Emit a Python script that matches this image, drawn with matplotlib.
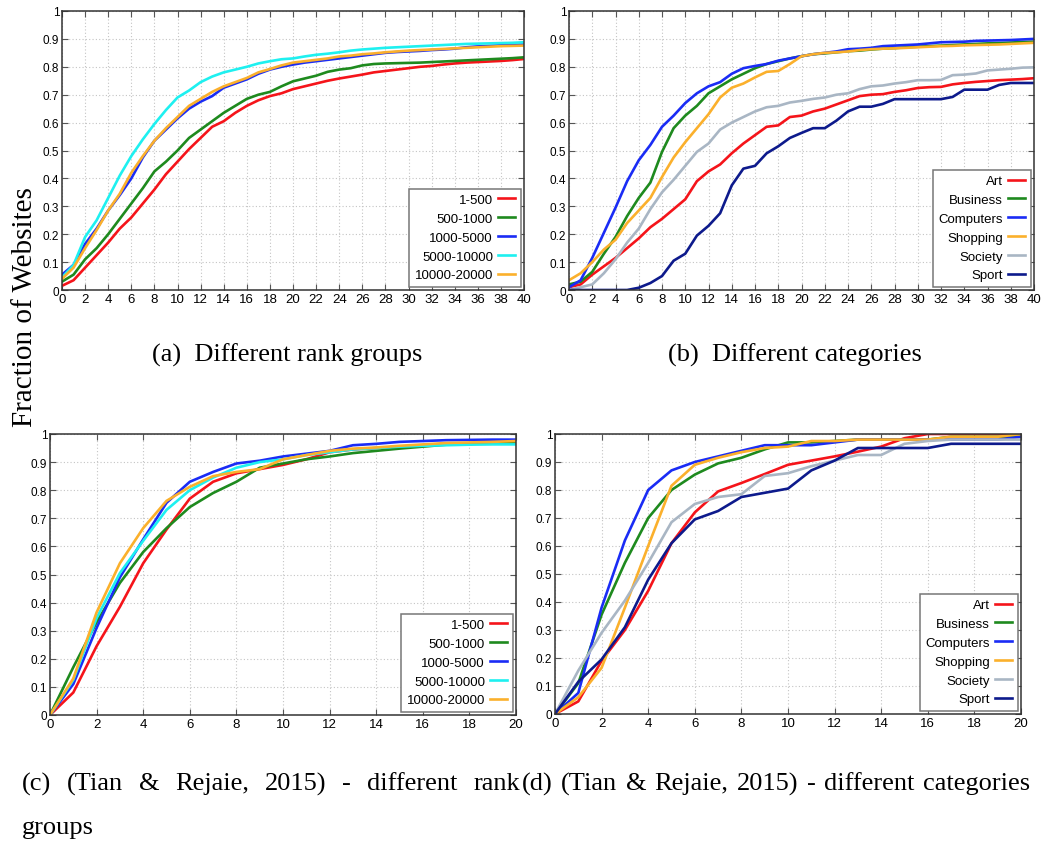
import matplotlib
matplotlib.use('Agg')
import matplotlib.pyplot as plt
import numpy as np

# ---------------------------------------------------------------- data ----
days_40 = list(range(0, 41))
days_20 = list(range(0, 21))

rank_labels = ['1-500', '500-1000', '1000-5000', '5000-10000', '10000-20000']
rank_colors = ['#f5141a', '#1e8a1e', '#1a2cf5', '#1ef0f0', '#fbb02c']

cat_labels = ['Art', 'Business', 'Computers', 'Shopping', 'Society', 'Sport']
cat_colors = ['#f5141a', '#1e8a1e', '#1a2cf5', '#fbb02c', '#a9b6c4', '#0d1a8c']

# (a) different rank groups
rank_a_1_500 = [0.015, 0.035, 0.08, 0.125, 0.17, 0.22, 0.26, 0.31, 0.36, 0.415, 0.46,
                0.505, 0.545, 0.585, 0.605, 0.635, 0.66, 0.68, 0.695, 0.705, 0.72,
                0.73, 0.74, 0.75, 0.758, 0.765, 0.772, 0.78, 0.785, 0.79, 0.795,
                0.80, 0.803, 0.808, 0.812, 0.815, 0.817, 0.819, 0.821, 0.824, 0.828]
rank_a_500_1000 = [0.03, 0.055, 0.11, 0.15, 0.20, 0.255, 0.31, 0.365, 0.425, 0.46, 0.50,
                   0.545, 0.575, 0.605, 0.635, 0.66, 0.685, 0.70, 0.71, 0.73, 0.748,
                   0.758, 0.768, 0.782, 0.79, 0.795, 0.805, 0.81, 0.812, 0.813, 0.814,
                   0.815, 0.817, 0.819, 0.821, 0.823, 0.825, 0.827, 0.829, 0.831, 0.834]
rank_a_1000_5000 = [0.055, 0.09, 0.165, 0.22, 0.285, 0.34, 0.40, 0.475, 0.535, 0.575, 0.615,
                    0.65, 0.675, 0.695, 0.725, 0.74, 0.755, 0.775, 0.79, 0.80, 0.808,
                    0.815, 0.82, 0.825, 0.83, 0.835, 0.84, 0.845, 0.85, 0.853, 0.855,
                    0.857, 0.86, 0.862, 0.865, 0.87, 0.873, 0.875, 0.877, 0.878, 0.88]
rank_a_5000_10000 = [0.045, 0.09, 0.19, 0.25, 0.33, 0.41, 0.48, 0.54, 0.595, 0.645, 0.69,
                     0.715, 0.745, 0.765, 0.78, 0.79, 0.80, 0.812, 0.82, 0.827, 0.83,
                     0.837, 0.843, 0.847, 0.852, 0.858, 0.862, 0.865, 0.868, 0.87, 0.872,
                     0.874, 0.876, 0.878, 0.88, 0.882, 0.883, 0.884, 0.885, 0.886, 0.888]
rank_a_10000_20000 = [0.04, 0.08, 0.15, 0.215, 0.285, 0.345, 0.42, 0.48, 0.535, 0.58, 0.62,
                      0.66, 0.685, 0.71, 0.73, 0.745, 0.76, 0.78, 0.792, 0.805, 0.815,
                      0.82, 0.825, 0.83, 0.837, 0.84, 0.845, 0.848, 0.852, 0.855, 0.858,
                      0.86, 0.862, 0.864, 0.866, 0.868, 0.87, 0.872, 0.874, 0.875, 0.876]

# (b) different categories
cat_b_art = [0.01, 0.02, 0.055, 0.085, 0.115, 0.15, 0.185, 0.225, 0.255, 0.29, 0.325,
             0.39, 0.425, 0.45, 0.49, 0.525, 0.555, 0.585, 0.59, 0.62, 0.625,
             0.64, 0.65, 0.665, 0.68, 0.695, 0.70, 0.702, 0.71, 0.716, 0.724,
             0.727, 0.728, 0.737, 0.742, 0.746, 0.749, 0.752, 0.754, 0.756, 0.759]
cat_b_business = [0.02, 0.03, 0.065, 0.13, 0.19, 0.265, 0.33, 0.385, 0.495, 0.58, 0.625,
                  0.66, 0.705, 0.73, 0.755, 0.775, 0.795, 0.81, 0.82, 0.83, 0.838,
                  0.845, 0.848, 0.852, 0.856, 0.858, 0.862, 0.865, 0.867, 0.87, 0.872,
                  0.874, 0.876, 0.878, 0.88, 0.882, 0.884, 0.885, 0.887, 0.889, 0.89]
cat_b_computers = [0.01, 0.035, 0.115, 0.205, 0.295, 0.39, 0.465, 0.52, 0.585, 0.625, 0.67,
                   0.705, 0.73, 0.745, 0.775, 0.795, 0.803, 0.81, 0.822, 0.83, 0.838,
                   0.845, 0.85, 0.855, 0.863, 0.865, 0.868, 0.874, 0.876, 0.878, 0.88,
                   0.884, 0.888, 0.889, 0.89, 0.893, 0.894, 0.895, 0.896, 0.898, 0.90]
cat_b_shopping = [0.035, 0.06, 0.10, 0.145, 0.18, 0.24, 0.285, 0.33, 0.405, 0.475, 0.53,
                  0.58, 0.63, 0.69, 0.725, 0.74, 0.762, 0.782, 0.785, 0.81, 0.838,
                  0.845, 0.85, 0.852, 0.855, 0.86, 0.863, 0.865, 0.866, 0.868, 0.87,
                  0.872, 0.874, 0.875, 0.877, 0.878, 0.879, 0.88, 0.882, 0.884, 0.886]
cat_b_society = [0.0, 0.01, 0.02, 0.06, 0.11, 0.17, 0.22, 0.29, 0.35, 0.395, 0.445,
                 0.495, 0.525, 0.575, 0.60, 0.62, 0.64, 0.655, 0.66, 0.672, 0.678,
                 0.685, 0.69, 0.70, 0.705, 0.72, 0.73, 0.733, 0.74, 0.745, 0.752,
                 0.752, 0.753, 0.77, 0.772, 0.776, 0.787, 0.79, 0.793, 0.797, 0.798]
cat_b_sport = [0.0, 0.0, 0.0, 0.0, 0.0, 0.0, 0.008, 0.025, 0.05, 0.105, 0.13,
               0.195, 0.23, 0.275, 0.375, 0.435, 0.445, 0.49, 0.515, 0.545, 0.563,
               0.58, 0.58, 0.607, 0.64, 0.657, 0.657, 0.667, 0.684, 0.684, 0.684,
               0.684, 0.684, 0.692, 0.718, 0.718, 0.718, 0.735, 0.742, 0.742, 0.742]

# (c) Tian & Rejaie - rank groups
rank_c_1_500 = [0, 0.08, 0.245, 0.385, 0.54, 0.66, 0.77, 0.83, 0.86, 0.875, 0.89,
                0.91, 0.935, 0.945, 0.95, 0.955, 0.96, 0.963, 0.965, 0.967, 0.97]
rank_c_500_1000 = [0, 0.17, 0.33, 0.47, 0.58, 0.665, 0.74, 0.79, 0.83, 0.88, 0.895,
                   0.91, 0.92, 0.932, 0.94, 0.948, 0.955, 0.962, 0.965, 0.967, 0.968]
rank_c_1000_5000 = [0, 0.11, 0.31, 0.49, 0.625, 0.755, 0.83, 0.865, 0.895, 0.905, 0.92,
                    0.93, 0.94, 0.96, 0.965, 0.972, 0.975, 0.978, 0.979, 0.98, 0.98]
rank_c_5000_10000 = [0, 0.125, 0.345, 0.505, 0.62, 0.73, 0.80, 0.845, 0.88, 0.90, 0.91,
                     0.925, 0.935, 0.945, 0.95, 0.955, 0.958, 0.96, 0.962, 0.963, 0.963]
rank_c_10000_20000 = [0, 0.13, 0.365, 0.54, 0.665, 0.762, 0.812, 0.85, 0.865, 0.875, 0.91,
                      0.925, 0.94, 0.948, 0.952, 0.958, 0.963, 0.968, 0.97, 0.972, 0.975]

# (d) Tian & Rejaie - categories
cat_d_art = [0, 0.045, 0.19, 0.30, 0.44, 0.61, 0.72, 0.795, 0.825, 0.857, 0.89,
             0.905, 0.92, 0.937, 0.955, 0.985, 1.0, 1.0, 1.0, 1.0, 1.0]
cat_d_business = [0, 0.11, 0.355, 0.54, 0.70, 0.80, 0.855, 0.895, 0.915, 0.945, 0.97,
                  0.97, 0.975, 0.98, 0.98, 0.98, 0.98, 0.99, 0.99, 0.99, 0.99]
cat_d_computers = [0, 0.075, 0.38, 0.62, 0.80, 0.87, 0.90, 0.92, 0.94, 0.96, 0.96,
                   0.96, 0.97, 0.98, 0.98, 0.98, 0.98, 0.98, 0.98, 0.98, 0.99]
cat_d_shopping = [0, 0.06, 0.165, 0.38, 0.60, 0.815, 0.89, 0.915, 0.935, 0.95, 0.955,
                  0.975, 0.975, 0.98, 0.98, 0.98, 0.98, 0.99, 0.99, 0.99, 1.0]
cat_d_society = [0, 0.155, 0.29, 0.405, 0.54, 0.685, 0.75, 0.775, 0.785, 0.85, 0.86,
                 0.885, 0.905, 0.925, 0.925, 0.965, 0.975, 0.98, 0.98, 0.98, 0.98]
cat_d_sport = [0, 0.115, 0.195, 0.31, 0.48, 0.61, 0.695, 0.725, 0.775, 0.79, 0.805,
               0.87, 0.905, 0.95, 0.95, 0.95, 0.95, 0.965, 0.965, 0.965, 0.965]

W, H = 1048, 845
SANS = ['Liberation Sans', 'DejaVu Sans']
SERIF = ['Liberation Serif', 'DejaVu Serif']


def px_axes(fig, left, top, right, bottom):
    # axes placed by pixel box of the reference picture
    return fig.add_axes([left / W, (H - bottom) / H, (right - left) / W, (bottom - top) / H])


def style_axes(ax, xmax):
    ax.set_xlim(0, xmax)
    ax.set_ylim(0, 1)
    ax.set_xticks(np.arange(0, xmax + 1, 2))
    ax.set_yticks(np.arange(0, 1.01, 0.1))
    ax.set_yticklabels(['%g' % round(v, 1) for v in np.arange(0, 1.01, 0.1)])
    ax.grid(True, linestyle=(0, (1, 2)), color='#c4c4c4', linewidth=0.8)
    ax.tick_params(direction='in', top=True, right=True, length=4, width=0.8,
                   color='#555555', pad=2)
    ax.tick_params(axis='y', labelsize=8.5)
    ax.tick_params(axis='x', labelsize=9.5)
    for lab in ax.get_xticklabels() + ax.get_yticklabels():
        lab.set_family(SANS)
    for sp in ax.spines.values():
        sp.set_color('#333333')
        sp.set_linewidth(1.1)


def draw_panel(ax, x, series, labels, colors, xmax):
    for ys, lab, col in zip(series, labels, colors):
        ax.plot(x, ys, color=col, linewidth=1.9, label=lab)
    style_axes(ax, xmax)
    leg = ax.legend(loc='lower right', markerfirst=False, fancybox=False,
                    prop={'family': SANS, 'size': 9.5}, handlelength=1.35,
                    handletextpad=0.35, borderaxespad=0.25, labelspacing=0.5,
                    borderpad=0.4, framealpha=1)
    leg.get_frame().set_edgecolor('#777777')
    leg.get_frame().set_linewidth(1.1)


def justify(fig, words, x0, x1, y, size):
    # spread words so the line fills x0..x1 (pixels)
    renderer = fig.canvas.get_renderer()
    texts = [fig.text(0, y / H, w, family=SERIF, fontsize=size, va='center') for w in words]
    widths = [t.get_window_extent(renderer).width for t in texts]
    gap = (x1 - x0 - sum(widths)) / (len(words) - 1)
    pos = x0
    for t, wd in zip(texts, widths):
        t.set_x(pos / W)
        pos += wd + gap


fig = plt.figure(figsize=(W / 100, H / 100), dpi=100)

ax_a = px_axes(fig, 62, 12, 524, 291)
draw_panel(ax_a, days_40, [rank_a_1_500, rank_a_500_1000, rank_a_1000_5000,
                           rank_a_5000_10000, rank_a_10000_20000],
           rank_labels, rank_colors, 40)

ax_b = px_axes(fig, 569, 12, 1034, 291)
draw_panel(ax_b, days_40, [cat_b_art, cat_b_business, cat_b_computers,
                           cat_b_shopping, cat_b_society, cat_b_sport],
           cat_labels, cat_colors, 40)

ax_c = px_axes(fig, 50, 435, 516, 716)
draw_panel(ax_c, days_20, [rank_c_1_500, rank_c_500_1000, rank_c_1000_5000,
                           rank_c_5000_10000, rank_c_10000_20000],
           rank_labels, rank_colors, 20)

ax_d = px_axes(fig, 555, 435, 1021, 715)
draw_panel(ax_d, days_20, [cat_d_art, cat_d_business, cat_d_computers,
                           cat_d_shopping, cat_d_society, cat_d_sport],
           cat_labels, cat_colors, 20)

# shared y label and captions
fig.text(25 / W, 1 - 307 / H, 'Fraction of Websites', rotation=90, family=SERIF,
         fontsize=21, ha='center', va='center')
fig.text(287 / W, 1 - 355 / H, '(a)  Different rank groups', family=SERIF,
         fontsize=19, ha='center', va='center')
fig.text(795 / W, 1 - 355 / H, '(b)  Different categories', family=SERIF,
         fontsize=19, ha='center', va='center')

justify(fig, ['(c)', '(Tian', '&', 'Rejaie,', '2015)', '-', 'different', 'rank'],
        22, 520, H - 784, 19)
fig.text(22 / W, 1 - 828 / H, 'groups', family=SERIF, fontsize=19, va='center')
justify(fig, ['(d)', '(Tian', '&', 'Rejaie,', '2015)', '-', 'different', 'categories'],
        522, 1030, H - 784, 19)

fig.savefig('out.png', dpi=100)
